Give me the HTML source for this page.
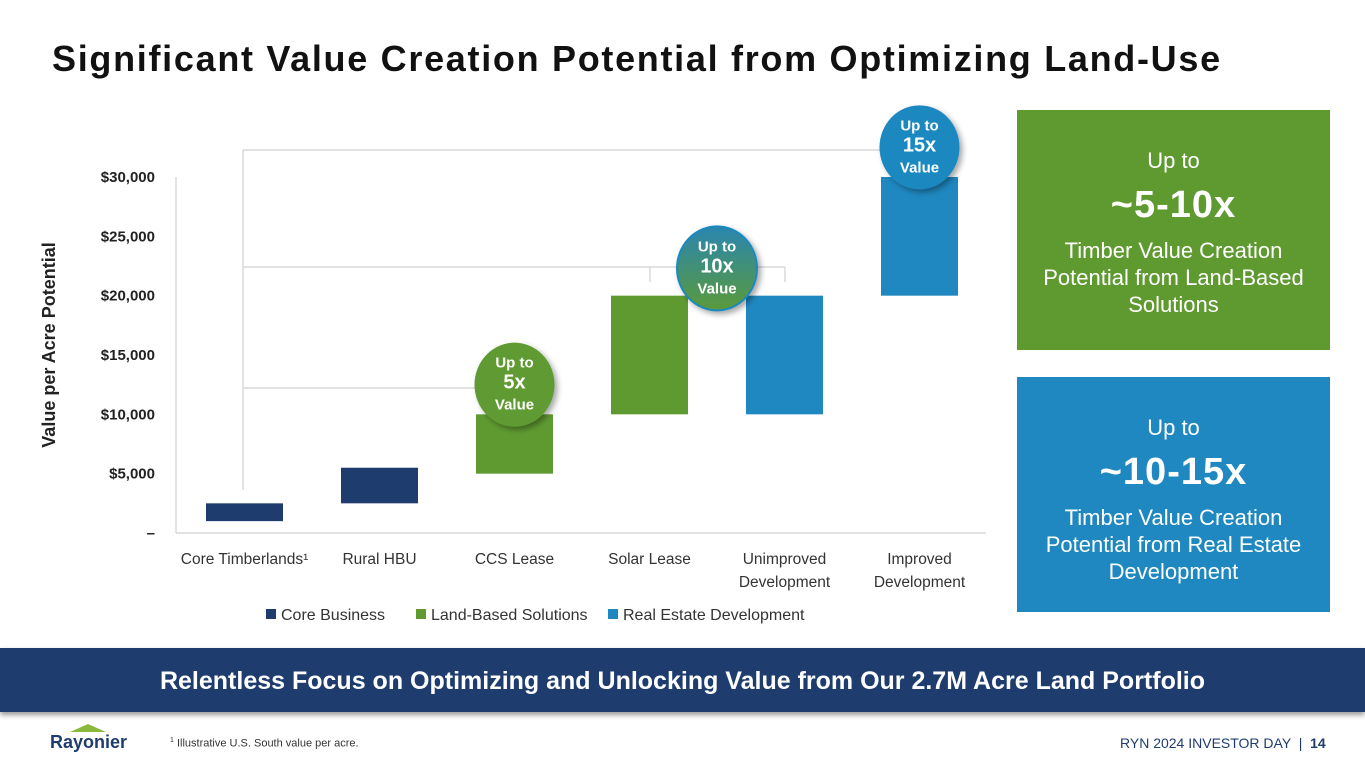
<!DOCTYPE html>
<html><head><meta charset="utf-8"><style>
body{margin:0;width:1365px;height:768px;background:#fff;font-family:"Liberation Sans",sans-serif;overflow:hidden;position:relative}
.abs{position:absolute}
.box{position:absolute;left:1017px;width:313px;color:#fff;text-align:center}
.box .a{font-size:22px;margin-top:38px}
.box .b{font-size:38px;letter-spacing:1px;font-weight:bold;margin:10px 0 10px}
.box .c{font-size:22px;line-height:27px}
</style></head><body>
<div class="abs" style="left:52px;top:38px;font-size:36px;letter-spacing:1.7px;font-weight:bold;color:#111">Significant Value Creation Potential from Optimizing Land-Use</div>
<svg class="abs" style="left:0;top:0" width="1010" height="640">
<defs><filter id="sh" x="-30%" y="-30%" width="160%" height="160%"><feDropShadow dx="3" dy="3" stdDeviation="3" flood-opacity="0.35"/></filter>
<linearGradient id="g10" x1="0" y1="0" x2="0" y2="1"><stop offset="0" stop-color="#2a86b0"/><stop offset="1" stop-color="#5a9a3a"/></linearGradient></defs>
<g id="grid" stroke="#d0d0d0" stroke-width="1.2" fill="none">
<line x1="243" y1="150" x2="920" y2="150"/>
<line x1="243" y1="267" x2="785" y2="267"/>
<line x1="243" y1="388" x2="515" y2="388"/>
<line x1="243" y1="150" x2="243" y2="490"/>
<line x1="650" y1="267" x2="650" y2="282"/>
<line x1="785" y1="267" x2="785" y2="282"/>
<line x1="176" y1="177" x2="176" y2="533"/>
<line x1="176" y1="533" x2="986" y2="533"/>
</g>
<g id="bars"></g><g id="yt" font-size="15" font-weight="bold" fill="#222" text-anchor="end"></g>
<g id="xt" font-size="15.5" fill="#333" text-anchor="middle"></g><g id="bub"></g>
<text transform="translate(55,345) rotate(-90)" text-anchor="middle" font-size="18" font-weight="bold" fill="#222">Value per Acre Potential</text>
<g font-size="16" fill="#333">
<rect x="266" y="609" width="10" height="10" fill="#1f3c6e"/><text x="281" y="620">Core Business</text>
<rect x="416" y="609" width="10" height="10" fill="#5f9a31"/><text x="431" y="620">Land-Based Solutions</text>
<rect x="608" y="609" width="10" height="10" fill="#1f88c0"/><text x="623" y="620">Real Estate Development</text>
</g>
</svg>
<div class="box" style="top:110px;height:240px;background:#5f9a31"><div class="a">Up to</div><div class="b">~5-10x</div><div class="c">Timber Value Creation<br>Potential from Land-Based<br>Solutions</div></div>
<div class="box" style="top:377px;height:235px;background:#1f88c0"><div class="a">Up to</div><div class="b">~10-15x</div><div class="c">Timber Value Creation<br>Potential from Real Estate<br>Development</div></div>
<div class="abs" style="left:0;top:648px;width:1365px;height:64px;background:#1f3c6e;color:#fff;font-size:25px;font-weight:bold;text-align:center;line-height:66px;box-shadow:0 3px 5px rgba(0,0,0,.4)">Relentless Focus on Optimizing and Unlocking Value from Our 2.7M Acre Land Portfolio</div>
<div class="abs" style="left:50px;top:732px;font-size:18px;font-weight:bold;color:#1f3c6e">Rayonier</div>
<div class="abs" style="left:70px;top:724px;width:0;height:0;border-left:18px solid transparent;border-right:18px solid transparent;border-bottom:8px solid #8ab83a"></div>
<div class="abs" style="left:170px;top:737px;font-size:11px;color:#333"><sup style="font-size:7px">1</sup> Illustrative U.S. South value per acre.</div>
<div class="abs" style="left:1120px;top:735px;font-size:14px;color:#1f3c6e">RYN 2024 INVESTOR DAY &nbsp;| &nbsp;<b>14</b></div>
<script>
const categories=["Core Timberlands","Rural HBU","CCS Lease","Solar Lease","Unimproved Development","Improved Development"];
const lows=[1000,2500,5000,10000,10000,20000];
const highs=[2500,5500,10000,20000,20000,30000];
const groups=[0,0,1,1,2,2];
const tickVals=[0,5000,10000,15000,20000,25000,30000];
const tickLabels=["–","$5,000","$10,000","$15,000","$20,000","$25,000","$30,000"];
const bubbleText=["5x","10x","15x"];
const bubbleCat=[2,3.5,5];
const bubbleVal=[12500,22300,32500];
const colors=["#1f3c6e","#5f9a31","#1f88c0"];
const NS="http://www.w3.org/2000/svg";
const y=v=>533-v*(356/30000);
const x=i=>244.5+i*135;
function mk(t,a,p){const e=document.createElementNS(NS,t);for(const k in a)e.setAttribute(k,a[k]);p.appendChild(e);return e;}
const gb=document.getElementById('bars');
categories.forEach((c,i)=>{
 const r=mk('rect',{x:x(i)-38.5,y:y(highs[i]),width:77,height:y(lows[i])-y(highs[i]),fill:colors[groups[i]]},gb);
 
 
});
const gy=document.getElementById('yt');
tickVals.forEach((v,i)=>{const t=mk('text',{x:155,y:y(v)+5},gy);t.textContent=tickLabels[i];
 
 });
const gx=document.getElementById('xt');
const lines=[["Core Timberlands¹"],["Rural HBU"],["CCS Lease"],["Solar Lease"],["Unimproved","Development"],["Improved","Development"]];
lines.forEach((l,i)=>l.forEach((s,j)=>{const t=mk('text',{x:x(i),y:564+j*23},gx);t.textContent=s;
 
 }));
const gu=document.getElementById('bub');
const bc=["#5f9a31","url(#g10)","#1f88c0"];
bubbleText.forEach((b,i)=>{
 const cx=x(bubbleCat[i]),cy=y(bubbleVal[i]);
 const g=mk('g',{},gu);
 
 
 mk('ellipse',{cx:cx,cy:cy,rx:40,ry:42,fill:bc[i],stroke:i==1?'#1f88c0':'none','stroke-width':2,filter:'url(#sh)'},g);
 const a=mk('text',{x:cx,y:cy-17,'text-anchor':'middle',fill:'#fff','font-size':15,'font-weight':'bold'},g);a.textContent="Up to";
 const m=mk('text',{x:cx,y:cy+4,'text-anchor':'middle',fill:'#fff','font-size':20,'font-weight':'bold'},g);m.textContent=b;
 const v=mk('text',{x:cx,y:cy+25,'text-anchor':'middle',fill:'#fff','font-size':15,'font-weight':'bold'},g);v.textContent="Value";
});
</script>
</body></html>
